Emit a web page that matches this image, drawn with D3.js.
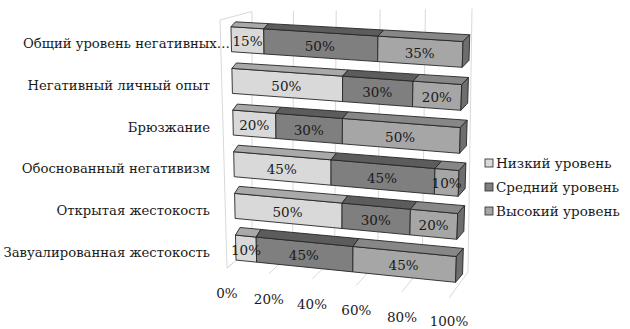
<!DOCTYPE html>
<html>
<head>
<meta charset="utf-8">
<script src="https://cdn.jsdelivr.net/npm/d3@7"></script>
<style>
  html, body { margin: 0; padding: 0; background: #fff; }
  svg { display: block; }
  text { font-family: "DejaVu Serif", "Liberation Serif", serif; fill: #1a1a1a; }
</style>
</head>
<body>
<svg id="chart" width="630" height="329"></svg>
<script>
// ---- data ----
const categories = [
  "Общий уровень негативных…",
  "Негативный личный опыт",
  "Брюзжание",
  "Обоснованный негативизм",
  "Открытая жестокость",
  "Завуалированная жестокость"
];
const seriesKeys = ["low", "mid", "high"];
const seriesNames = ["Низкий уровень", "Средний уровень", "Высокий уровень"];
const lowValues  = [15, 50, 20, 45, 50, 10];
const midValues  = [50, 30, 30, 45, 30, 45];
const highValues = [35, 20, 50, 10, 20, 45];
const tickValues = [0, 20, 40, 60, 80, 100];
const tickLabels = ["0%", "20%", "40%", "60%", "80%", "100%"];

// ---- styling ----
const frontFill = { low: "#d9d9d9", mid: "#7f7f7f", high: "#a6a6a6" };
const topFill   = { low: "#a9a9a9", mid: "#5c5c5c", high: "#878787" };
const sideFill  = { low: "#9a9a9a", mid: "#505050", high: "#6e6e6e" };
const edge = "#262626";
const wallLine = "#d9d9d9";
const fontSize = 13.5;
const catFontSize = 13.2;

const svg = d3.select("#chart");
svg.append("rect").attr("width", 630).attr("height", 329).attr("fill", "#fff");

// ---- scales ----
const x = d3.scaleLinear().domain([0, 100]).range([0, 1]);
const y = d3.scaleBand().domain(categories).range([0, 1]).paddingInner(0.4).paddingOuter(0.2);

// ---- 3D view: front plane of the bars, depth vectors, perspective along value axis ----
const persp = -0.07;
const warp = v => v * (1 + persp) / (1 + persp * v);
const F00 = [230.8, 18.4], F10 = [463.3, 32.9], F01 = [236.2, 268.4], F11 = [455.3, 290.9];
const D00 = [4.5, -4.8],   D10 = [6.7, -6.7],   D01 = [4.5, -8.0],   D11 = [7.0, -8.3];

const lerp = (a, b, t) => a + (b - a) * t;
const lerp2 = (p, q, t) => [lerp(p[0], q[0], t), lerp(p[1], q[1], t)];
function bilinear(c00, c10, c01, c11, u, r) {
  return lerp2(lerp2(c00, c10, u), lerp2(c01, c11, u), r);
}
function project(v, r, z) {
  const u = warp(v);
  const p = bilinear(F00, F10, F01, F11, u, r);
  const d = bilinear(D00, D10, D01, D11, u, r);
  return [p[0] + d[0] * z, p[1] + d[1] * z];
}

// ---- walls: left wall, back wall gridlines, floor gridlines ----
const leftWall = { frontTop: [220, 20], frontBottom: [227, 268], backTop: [252, 11.5], backBottom: [252, 247] };
const backWall = { topLeft: [252, 11.5], topRight: [472, 8.5], bottomLeft: [252, 247], bottomRight: [468, 272] };
const floorFront = { left: [227, 268], right: [449, 298] };

const walls = svg.append("g").attr("fill", "none").attr("stroke", wallLine).attr("stroke-width", 1);
const line = d3.line();
walls.append("path").attr("d", line([leftWall.backTop, leftWall.frontTop, leftWall.frontBottom, leftWall.backBottom]));
tickValues.forEach(t => {
  const u = warp(x(t));
  const top = lerp2(backWall.topLeft, backWall.topRight, u);
  const bot = lerp2(backWall.bottomLeft, backWall.bottomRight, u);
  const front = lerp2(floorFront.left, floorFront.right, u);
  walls.append("path").attr("d", line([top, bot, front]));
});

// ---- bars ----
const rows = categories.map((c, i) => ({ cat: c, low: lowValues[i], mid: midValues[i], high: highValues[i] }));
const stacked = d3.stack().keys(seriesKeys)(rows);
const poly = pts => "M" + pts.map(p => p[0].toFixed(2) + "," + p[1].toFixed(2)).join("L") + "Z";

const bars = svg.append("g").attr("stroke", edge).attr("stroke-width", 0.9).attr("stroke-linejoin", "round");
const labels = svg.append("g").attr("font-size", fontSize).attr("text-anchor", "middle");

rows.forEach((row, i) => {
  const r0 = y(row.cat), r1 = r0 + y.bandwidth();
  const g = bars.append("g");
  stacked.forEach(layer => {
    const key = layer.key;
    const [a, b] = layer[i];
    const v0 = x(a), v1 = x(b);
    g.append("path").attr("fill", frontFill[key])
      .attr("d", poly([project(v0, r0, 0), project(v1, r0, 0), project(v1, r1, 0), project(v0, r1, 0)]));
    g.append("path").attr("fill", topFill[key])
      .attr("d", poly([project(v0, r0, 0), project(v1, r0, 0), project(v1, r0, 1), project(v0, r0, 1)]));
    if (b === 100) {
      g.append("path").attr("fill", sideFill[key])
        .attr("d", poly([project(v1, r0, 0), project(v1, r0, 1), project(v1, r1, 1), project(v1, r1, 0)]));
    }
    const c = project((v0 + v1) / 2, (r0 + r1) / 2, 0);
    labels.append("text").attr("x", c[0]).attr("y", c[1] + 1)
      .attr("dominant-baseline", "central").text((b - a) + "%");
  });
});

// ---- category labels ----
const catG = svg.append("g").attr("font-size", catFontSize).attr("text-anchor", "end");
categories.forEach((c, i) => {
  const p = project(0, y(c) + y.bandwidth() / 2, 0);
  catG.append("text").attr("x", i === 0 ? 230 : 210).attr("y", p[1] + 4.5)
    .attr("dominant-baseline", "central").text(c);
});

// ---- value axis labels along the floor front edge ----
const tickG = svg.append("g").attr("font-size", fontSize).attr("text-anchor", "middle");
tickValues.forEach((t, i) => {
  const p = lerp2(floorFront.left, floorFront.right, warp(x(t)));
  tickG.append("text").attr("x", p[0]).attr("y", Math.min(p[1] + 25, 320.5))
    .attr("dominant-baseline", "central").text(tickLabels[i]);
});

// ---- legend ----
const legend = svg.append("g").attr("font-size", fontSize);
seriesKeys.forEach((k, i) => {
  const ly = 163 + i * 24;
  legend.append("rect").attr("x", 485).attr("y", ly - 4).attr("width", 8).attr("height", 8)
    .attr("fill", frontFill[k]).attr("stroke", edge).attr("stroke-width", 0.8);
  legend.append("text").attr("x", 496).attr("y", ly).attr("dominant-baseline", "central").text(seriesNames[i]);
});
</script>
</body>
</html>
